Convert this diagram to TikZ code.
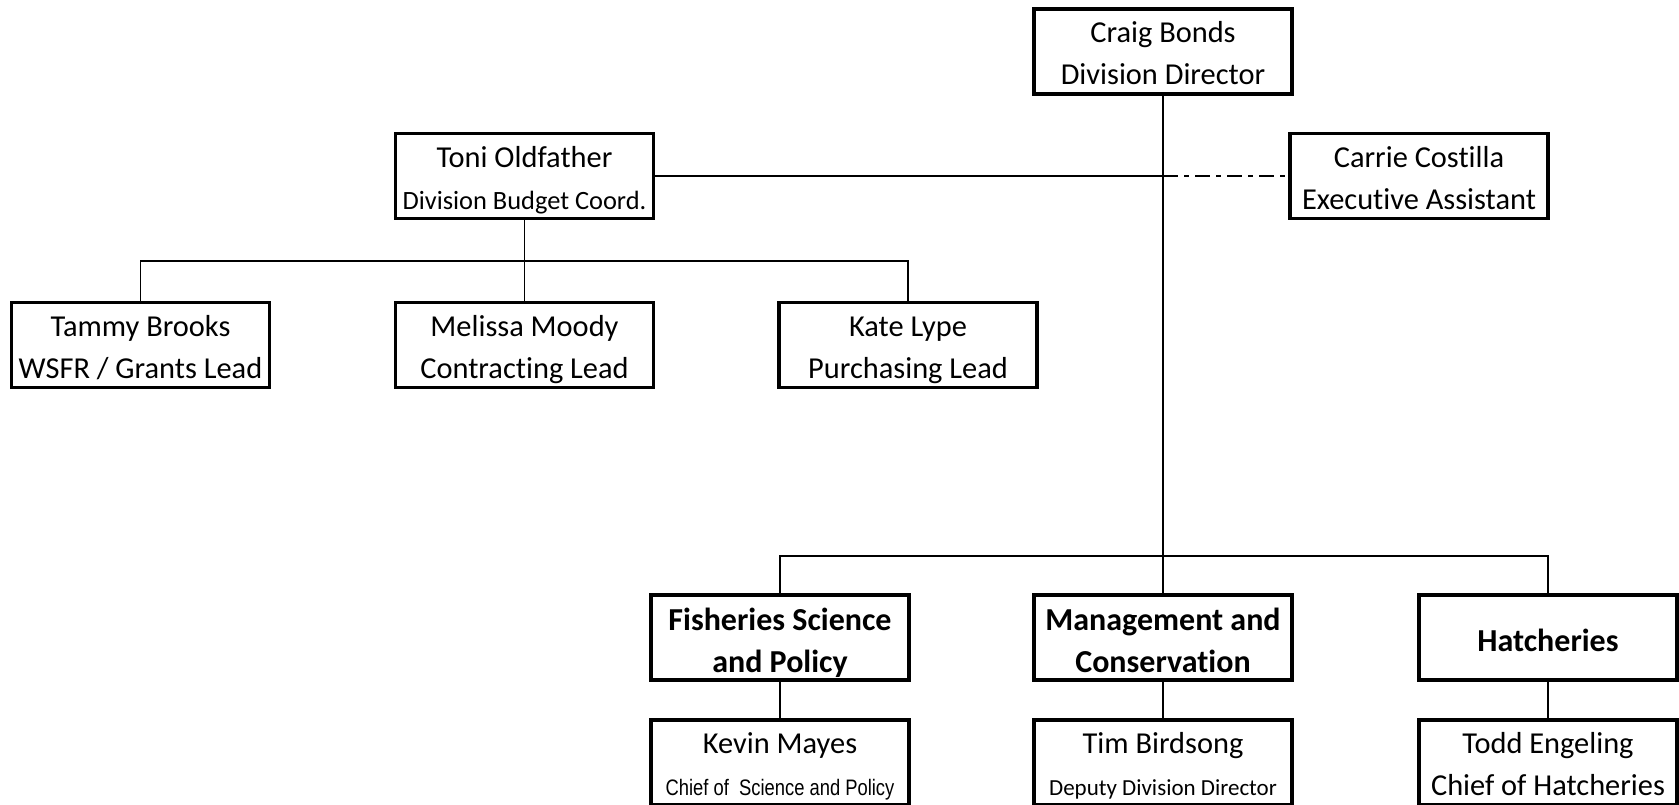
\documentclass[tikz,border=0pt]{standalone}
\usepackage{fontspec}
\setmainfont[Ligatures=CommonOff]{Carlito}
\newfontfamily\narrowfont[FakeStretch=0.82]{Liberation Sans}
% fixed line struts so every box places its text the same way
\newlength\strutht
\newlength\strutdp
\setlength\strutht{16.5pt}
\setlength\strutdp{4.5pt}
\newcommand\toprule{\rule{0pt}{\strutht}}
\newcommand\botrule{\rule[-\strutdp]{0pt}{0pt}}
\newcommand\entry[2]{\toprule#1\\#2\botrule}
\newcommand\single[1]{\toprule#1\botrule}

\begin{document}
\begin{tikzpicture}[x=0.5pt,y=-0.5pt,
  box/.style={draw, line width=1.7pt, minimum width=129pt, minimum height=42.5pt,
    inner sep=0pt, align=center, font=\fontsize{15.2}{21}\selectfont},
  unit/.style={box, font=\bfseries\fontsize{16}{21}\selectfont
    \setlength\strutht{17.8pt}\setlength\strutdp{3.6pt}},
  wire/.style={line width=0.8pt},
  assist/.style={wire, dash pattern=on 7.5pt off 3pt on 2.5pt off 3pt},
]
\useasboundingbox (0,0) rectangle (1679,804);

% top level
\node[box] (craig) at (1163,51.5) {\entry{Craig Bonds}{Division Director}};
\node[box] (toni) at (524.5,176) {\entry{Toni Oldfather}{\fontsize{13.2}{21}\selectfont Division Budget Coord.}};
\node[box] (carrie) at (1419,176) {\entry{Carrie Costilla}{Executive Assistant}};

% budget staff
\node[box] (tammy) at (140.5,345) {\entry{Tammy Brooks}{WSFR / Grants Lead}};
\node[box] (melissa) at (524.5,345) {\entry{Melissa Moody}{Contracting Lead}};
\node[box] (kate) at (908,345) {\entry{Kate Lype}{Purchasing Lead}};

% sections
\node[unit] (fish) at (780,637.5) {\entry{Fisheries Science}{and Policy}};
\node[unit] (mgmt) at (1163,637.5) {\entry{Management and}{Conservation}};
\node[unit] (hatch) at (1548,637.5) {\single{Hatcheries}};

% section chiefs
\node[box] (kevin) at (780,762.5) {\entry{Kevin Mayes}{\narrowfont\fontsize{11.2}{21}\selectfont Chief of~ Science and Policy}};
\node[box] (tim) at (1163,762.5) {\entry{Tim Birdsong}{\fontsize{11.5}{21}\selectfont Deputy Division Director}};
\node[box] (todd) at (1548,762.5) {\entry{Todd Engeling}{Chief of Hatcheries}};

% bus lines
\coordinate (tbar) at (0,261);
\coordinate (mbar) at (0,556);

% connectors
\draw[wire] (craig.south) -- (mgmt.north);
\draw[wire] (toni.east) -- (craig.south |- toni.east);
\draw[assist] (craig.south |- carrie.west) -- (carrie.west);

\draw[wire] (toni.south) -- (melissa.north);
\draw[wire] (tammy.north) -- (tammy.north |- tbar) -- (kate.north |- tbar) -- (kate.north);

\draw[wire] (fish.north) -- (fish.north |- mbar) -- (hatch.north |- mbar) -- (hatch.north);
\draw[wire] (fish.south) -- (kevin.north);
\draw[wire] (mgmt.south) -- (tim.north);
\draw[wire] (hatch.south) -- (todd.north);
\end{tikzpicture}
\end{document}
